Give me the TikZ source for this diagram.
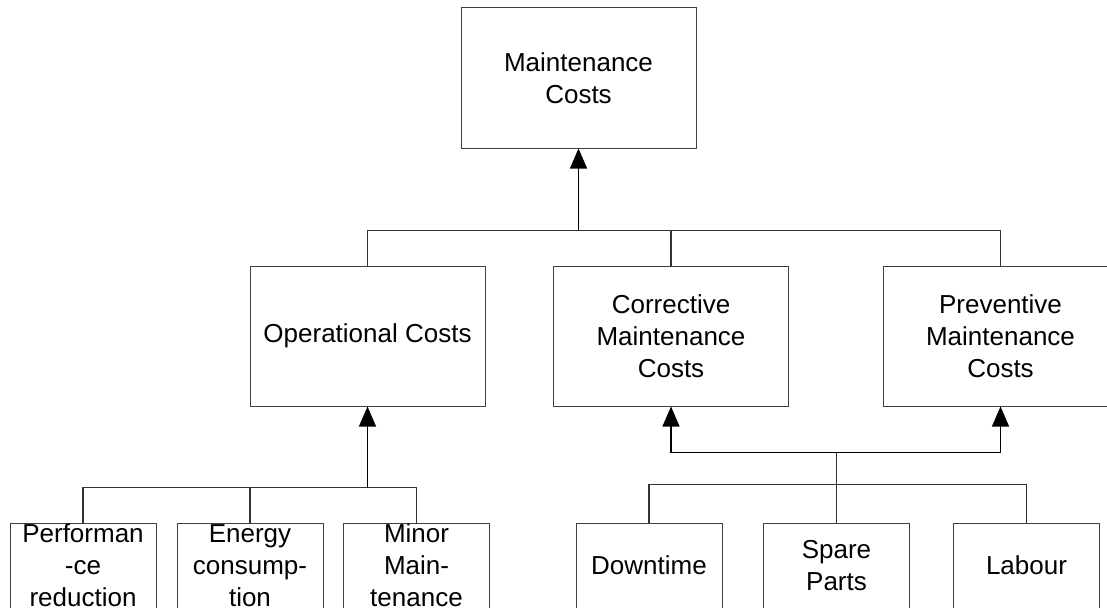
\documentclass[tikz,border=0pt]{standalone}
\usepackage{fontspec}
\setmainfont{Liberation Sans}
\usetikzlibrary{arrows.meta}
\begin{document}
\begin{tikzpicture}[x=1pt,y=-1pt,
  box/.style={draw=black!75, line width=1pt, fill=white, inner sep=0pt,
    align=center, font=\fontsize{26}{32}\selectfont},
  bigbox/.style={box, minimum width=235pt, minimum height=140pt},
  smallbox/.style={box, minimum width=146pt, minimum height=85pt},
  conn/.style={draw=black!80, line width=1.1pt},
  arr/.style={conn, draw=black, -{Triangle[length=20pt,width=17pt]}}]
\useasboundingbox (0,0) rectangle (1107,607);
\clip (0,0) rectangle (1107,607);
\fill[white] (0,0) rectangle (1107,607);

% upper levels
\node[bigbox] (top)  at (578.5,78)  {Maintenance\\Costs};
\node[bigbox] (ops)  at (367.5,336) {Operational Costs};
\node[bigbox] (cor)  at (671,336)   {Corrective\\Maintenance\\Costs};
\node[bigbox] (prev) at (1000.5,336) {Preventive\\Maintenance\\Costs};

% lowest level
\node[smallbox] (perf)   at (83,565.5)   {Performan\\-ce\\reduction};
\node[smallbox] (energy) at (250,565.5)  {Energy\\consump-\\tion};
\node[smallbox] (minor)  at (416.5,565.5) {Minor\\Main-\\tenance};
\node[smallbox] (down)   at (649,565.5)  {Downtime};
\node[smallbox] (spare)  at (836.5,565.5) {Spare\\Parts};
\node[smallbox] (lab)    at (1026.5,565.5) {Labour};

% junction points
\coordinate (j1) at (578.5,230.5);
\coordinate (j2) at (367.5,487.5);
\coordinate (j3) at (836.5,452.7);
\coordinate (j4) at (836.5,484.3);

% cost categories into total costs
\draw[conn] (ops.north) |- (j1) -| (prev.north);
\draw[conn] (j1 -| cor.north) -- (cor.north);
\draw[arr] (j1) -- (top.south);

% operational cost items
\draw[conn] (perf.north) |- (j2) -| (minor.north);
\draw[conn] (energy.north) -- (energy.north |- j2);
\draw[arr] (j2) -- (ops.south);

% shared items for corrective and preventive costs
\draw[conn] (down.north) |- (j4) -| (lab.north);
\draw[conn] (spare.north) -- (j3);
\draw[arr] (j3) -| (cor.south);
\draw[arr] (j3) -| (prev.south);
\end{tikzpicture}
\end{document}
